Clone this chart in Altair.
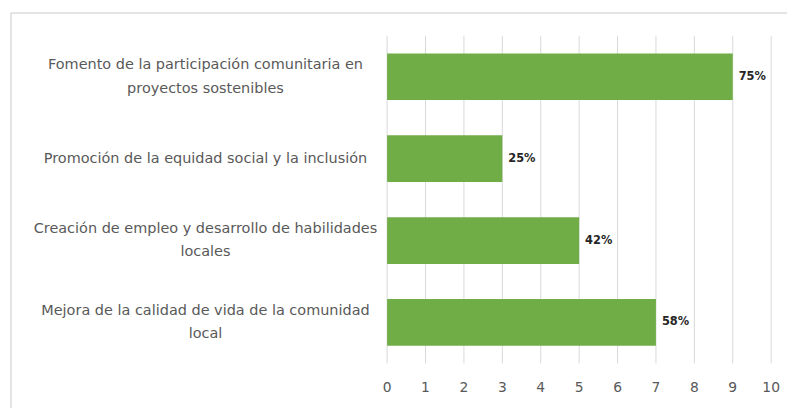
import altair as alt
import pandas as pd

categories = [
    "Fomento de la participación comunitaria en|proyectos sostenibles",
    "Promoción de la equidad social y la inclusión",
    "Creación de empleo y desarrollo de habilidades|locales",
    "Mejora de la calidad de vida de la comunidad|local",
]
values = [9, 3, 5, 7]
labels = ["75%", "25%", "42%", "58%"]
x_ticks = list(range(0, 11))

df = pd.DataFrame({"cat": categories, "val": values, "lab": labels})
ticks_df = pd.DataFrame({"val": x_ticks})

FONT = "DejaVu Sans"
GREY = "#595959"
W, H = 388, 331

x_scale = alt.Scale(domain=[0, 10], nice=False)
x_enc = alt.X("val:Q", scale=x_scale, axis=None)
y_enc = alt.Y(
    "cat:N",
    sort=categories,
    scale=alt.Scale(paddingInner=0.43, paddingOuter=0.215),
    axis=alt.Axis(
        title=None,
        domain=False,
        ticks=False,
        labelExpr="split(datum.label, '|')",
        labelAlign="center",
        labelPadding=184,
        labelLimit=0,
        labelOffset={"condition": {"test": "indexof(datum.label, '|') >= 0", "value": -12}, "value": 0},
        labelColor=GREY,
        labelFont=FONT,
        labelFontSize=14.6,
        labelLineHeight=24,
    ),
)

grid = alt.Chart(ticks_df).mark_rule(color="#d9d9d9", strokeWidth=1).encode(
    x=x_enc, y=alt.value(0), y2=alt.value(H)
)
tick_labels = alt.Chart(ticks_df).mark_text(
    baseline="middle", align="center", fontSize=14, font=FONT, color=GREY
).encode(x=x_enc, y=alt.value(H + 25), text="val:Q")

base = alt.Chart(df)
bars = base.mark_bar(color="#70AD47").encode(x=x_enc, y=y_enc)
text = base.mark_text(
    align="left", baseline="middle", dx=6, fontWeight="bold",
    fontSize=11.5, font=FONT, color="#262626"
).encode(x=x_enc, y=y_enc, text="lab:N")

frame_data = alt.Data(values=[{"k": 1}])
top_rule = alt.Chart(frame_data).mark_rule(color="#c8c8c8", strokeWidth=1).encode(
    x=alt.value(-380), x2=alt.value(410), y=alt.value(-23)
)
left_rule = alt.Chart(frame_data).mark_rule(color="#c8c8c8", strokeWidth=1).encode(
    x=alt.value(-380), y=alt.value(-23), y2=alt.value(380)
)

chart = (
    alt.layer(grid, bars, text, tick_labels, top_rule, left_rule)
    .properties(
        width=W,
        height=H,
        autosize=alt.AutoSizeParams(type="none"),
        padding={"left": 383, "top": 26, "right": 16, "bottom": 43},
        background="white",
    )
    .configure_view(stroke=None)
)

chart.save("out.html", embed_options={"renderer": "svg", "actions": False})
